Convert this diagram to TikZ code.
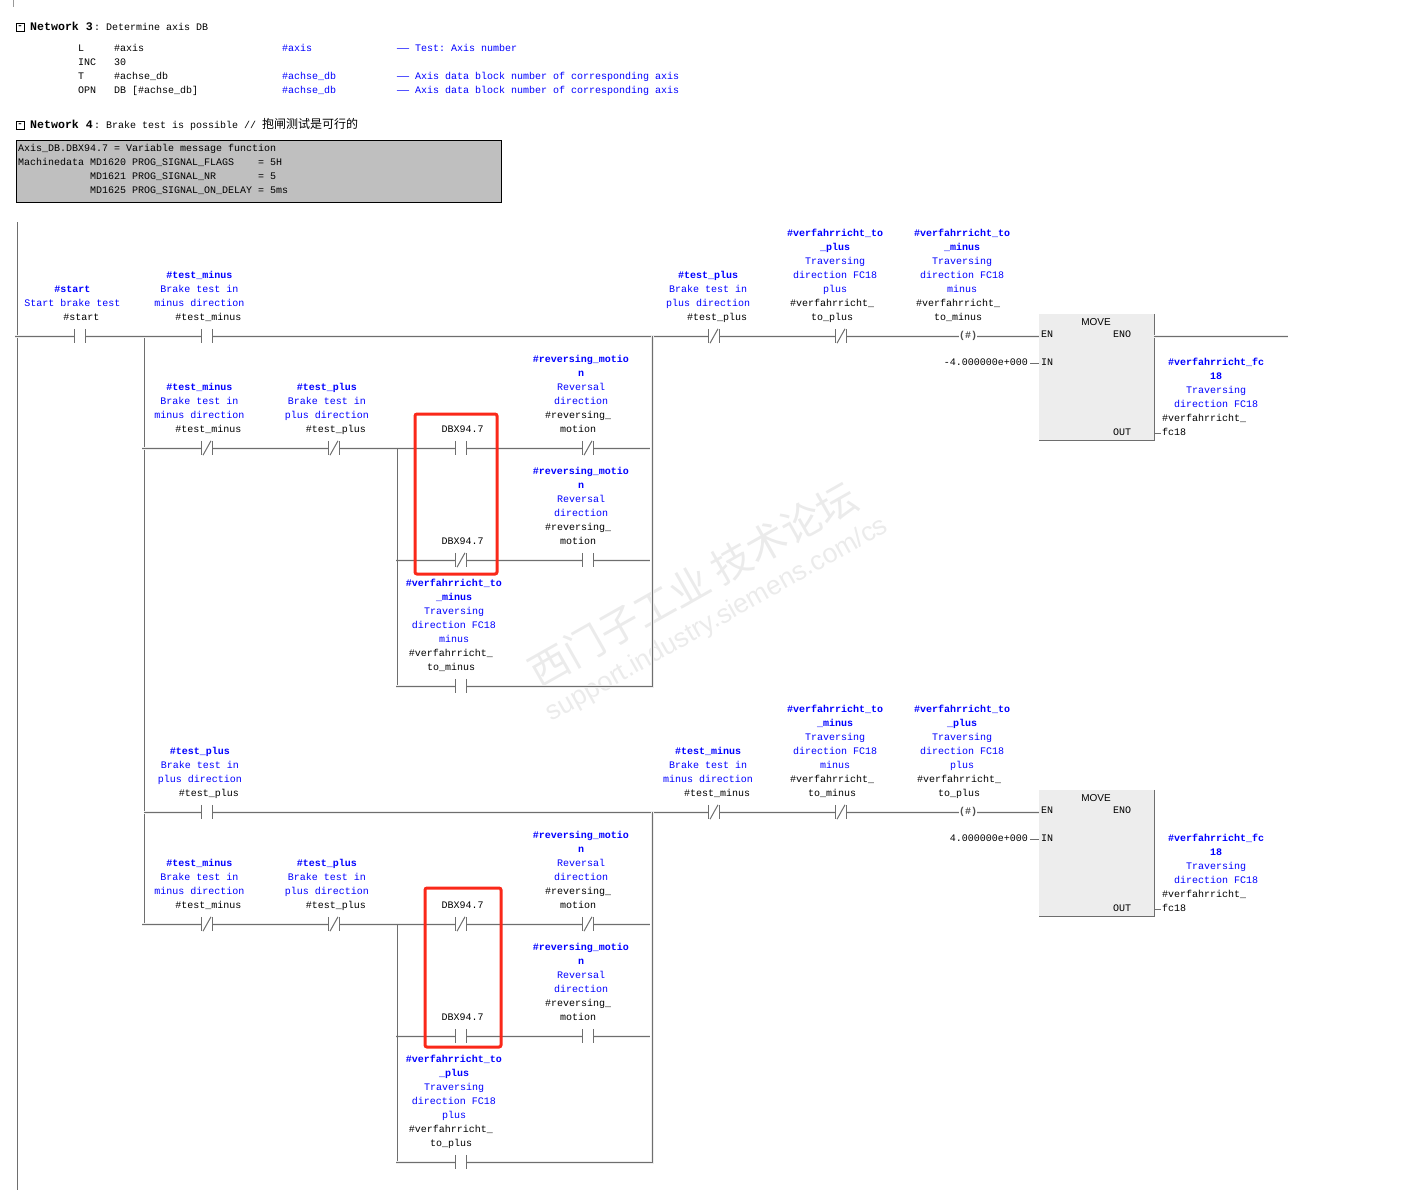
\documentclass[tikz,border=0pt]{standalone}
\usepackage{fontspec}
\setmainfont{Liberation Serif}
\setsansfont{Liberation Sans}
\setmonofont{Liberation Mono}
\newfontfamily\cjk{Noto Sans CJK SC}
\usetikzlibrary{positioning}

\definecolor{rungcol}{RGB}{110,110,110}
\definecolor{notecol}{RGB}{191,191,191}
\definecolor{redcol}{RGB}{250,40,25}
\definecolor{symcol}{RGB}{0,0,255}

\tikzset{
plc/.style={font=\ttfamily\fontsize{10}{14}\selectfont,inner sep=0pt,execute at begin node=\strut,execute at end node=\strut},
plcleft/.style={plc,anchor=west,align=left},
plcblue/.style={plcleft,text=symcol},
nethead/.style={plc,anchor=west,font=\ttfamily\bfseries\fontsize{11.6}{14}\selectfont},
collapsebox/.style={draw=black,line width=0.7pt,minimum size=8pt,inner sep=0pt,font=\ttfamily\bfseries\fontsize{9}{9}\selectfont},
optext/.style={plc,align=center},
symtext/.style={plc,align=center,text=symcol},
contactnode/.style={minimum width=11pt,minimum height=14pt,inner sep=0pt},
coilnode/.style={minimum width=17pt,minimum height=14pt,inner sep=0pt,font=\ttfamily\bfseries\fontsize{10}{14}\selectfont,text=rungcol!70!black},
bar/.style={draw=rungcol,line width=1pt},
rung/.style={draw=rungcol,line width=1pt,preaction={draw=black!7,line width=3pt}},
rail/.style={draw=rungcol,line width=1pt},
movebox/.style={fill=black!7,minimum width=115pt,minimum height=126pt,inner sep=0pt},
movename/.style={font=\sffamily\fontsize{10}{10}\selectfont,inner sep=0pt},
pintext/.style={plc,anchor=west},
redbox/.style={draw=redcol,line width=3pt,rounded corners=2pt},
notebox/.style={draw=black,line width=0.8pt,fill=notecol,minimum width=485pt,minimum height=62pt,inner sep=0pt,anchor=north west},
watermark/.style={text=black!8,inner sep=0pt,rotate=29.5}
}

% contact: name, x, y, shift of operand, operand
\newcommand{\contact}[5]{
\node[contactnode] (#1) at (#2,#3) {};
\draw[bar] (#1.north west)--(#1.south west) (#1.north east)--(#1.south east);
\node[optext,above=4pt of #1,xshift=#4pt] (#1op) {#5};
}
\newcommand{\ncmark}[1]{\draw[bar] ([xshift=-4pt]#1.south)--([xshift=4pt]#1.north);}
\newcommand{\symlabel}[4][0]{\node[symtext,above=#1pt of #2op,xshift=#3pt] (#2sym) {#4};}
\newcommand{\coil}[5]{
\node[coilnode] (#1) at (#2,#3) {(\#)};
\node[optext,above=4pt of #1,xshift=#4pt] (#1op) {#5};
}
\newcommand{\ldash}{\scalebox{2}[1]{—}}

\begin{document}
\begin{tikzpicture}[x=1pt,y=-1pt]
\useasboundingbox (0,0) rectangle (1411,1195);

% watermark
\node[watermark,font=\cjk\fontsize{40}{40}\selectfont] (markcn) at (693,584) {西门子工业\ 技术论坛};
\node[watermark,font=\sffamily\fontsize{26.8}{27}\selectfont] (markweb) at (717,620) {support.industry.siemens.com/cs};

% network 3
\coordinate (tick1) at (13,0);
\coordinate (tick2) at (13,7);
\draw[rail,draw=black!40] (tick1)--(tick2);
\node[collapsebox] (net3box) at (20,27) {-};
\node[nethead] (net3) at (30,28) {Network 3};
\node[plcleft] (net3text) at (94,28) {:~Determine axis DB};
\node[plcleft] (op1) at (78,49) {L};
\node[plcleft] (arg1) at (114,49) {\#axis};
\node[plcblue] (sym1) at (282,49) {\#axis};
\node[plcblue] (com1) at (397,49) {\ldash~Test: Axis number};
\node[plcleft] (op2) at (78,63) {INC};
\node[plcleft] (arg2) at (114,63) {30};
\node[plcleft] (op3) at (78,77) {T};
\node[plcleft] (arg3) at (114,77) {\#achse\_db};
\node[plcblue] (sym3) at (282,77) {\#achse\_db};
\node[plcblue] (com3) at (397,77) {\ldash~Axis data block number of corresponding axis};
\node[plcleft] (op4) at (78,91) {OPN};
\node[plcleft] (arg4) at (114,91) {DB [\#achse\_db]};
\node[plcblue] (sym4) at (282,91) {\#achse\_db};
\node[plcblue] (com4) at (397,91) {\ldash~Axis data block number of corresponding axis};

% network 4
\node[collapsebox] (net4box) at (20,125) {-};
\node[nethead] (net4) at (30,126) {Network 4};
\node[plcleft] (net4text) at (94,126) {:~Brake test is possible // {\cjk\fontsize{12}{14}\selectfont 抱闸测试是可行的}};
\node[notebox] (note) at (16,140) {};
\node[plc,align=left,anchor=north west] (notetext) at (18,144) {Axis\_DB.DBX94.7 = Variable message function\\
Machinedata MD1620 PROG\_SIGNAL\_FLAGS~~~~= 5H\\
~~~~~~~~~~~~MD1621 PROG\_SIGNAL\_NR~~~~~~~= 5\\
~~~~~~~~~~~~MD1625 PROG\_SIGNAL\_ON\_DELAY = 5ms};

% rails
\coordinate (railtop) at (17,222);
\coordinate (railbot) at (17,1190);
\coordinate (jmain) at (144,336);
\coordinate (jlow) at (144,924);
\draw[rail] (railtop)--(railbot);
\draw[rail] (jmain)--(jlow);

% first direction
\coordinate (lstart) at (15,336);
\contact{cstart}{80}{336}{1.5}{\#start}
\symlabel{cstart}{-9}{\textbf{\#start}\\Start brake test}
\contact{ctm}{207}{336}{1.5}{\#test\_minus}
\symlabel{ctm}{-9}{\textbf{\#test\_minus}\\Brake test in\\minus direction}
\contact{ctp}{714}{336}{3}{\#test\_plus}\ncmark{ctp}
\symlabel{ctp}{-9}{\textbf{\#test\_plus}\\Brake test in\\plus direction}
\contact{cvp}{841}{336}{-9}{\#verfahrricht\_\\to\_plus}\ncmark{cvp}
\symlabel[2]{cvp}{3}{\textbf{\#verfahrricht\_to}\\\textbf{\_plus}\\Traversing\\direction FC18\\plus}
\coil{cvm}{968}{336}{-10}{\#verfahrricht\_\\to\_minus}
\symlabel[2]{cvm}{4}{\textbf{\#verfahrricht\_to}\\\textbf{\_minus}\\Traversing\\direction FC18\\minus}
\draw[rung] (lstart)--(cstart.west);
\draw[rung] (cstart.east)--(ctm.west);
\draw[rung] (ctm.east)--(ctp.west);
\draw[rung] (ctp.east)--(cvp.west);
\draw[rung] (cvp.east)--(cvm.west);

\contact{dtm}{207}{448}{1.5}{\#test\_minus}\ncmark{dtm}
\symlabel{dtm}{-9}{\textbf{\#test\_minus}\\Brake test in\\minus direction}
\contact{dtp}{334}{448}{2}{\#test\_plus}\ncmark{dtp}
\symlabel{dtp}{-9}{\textbf{\#test\_plus}\\Brake test in\\plus direction}
\contact{dbx}{461}{448}{1.5}{DBX94.7}
\contact{drv}{588}{448}{-10}{\#reversing\_\\motion}\ncmark{drv}
\symlabel[2]{drv}{3}{\textbf{\#reversing\_motio}\\\textbf{n}\\Reversal\\direction}
\coordinate (dstart) at (142,448);
\coordinate (dend) at (650,448);
\draw[rung] (dstart)--(dtm.west);
\draw[rung] (dtm.east)--(dtp.west);
\draw[rung] (dtp.east)--(dbx.west);
\draw[rung] (dbx.east)--(drv.west);
\draw[rung] (drv.east)--(dend);

\contact{ebx}{461}{560}{1.5}{DBX94.7}\ncmark{ebx}
\contact{erv}{588}{560}{-10}{\#reversing\_\\motion}
\symlabel[2]{erv}{3}{\textbf{\#reversing\_motio}\\\textbf{n}\\Reversal\\direction}
\coordinate (estart) at (396,560);
\coordinate (eend) at (650,560);
\draw[rung] (estart)--(ebx.west);
\draw[rung] (ebx.east)--(erv.west);
\draw[rung] (erv.east)--(eend);

\contact{fvm}{461}{686}{-10}{\#verfahrricht\_\\to\_minus}
\symlabel[2]{fvm}{3}{\textbf{\#verfahrricht\_to}\\\textbf{\_minus}\\Traversing\\direction FC18\\minus}
\coordinate (fstart) at (396,686);
\coordinate (fcorner) at (652.5,686);
\coordinate (ftop) at (652.5,336);
\coordinate (dbranch) at (397.5,448);
\coordinate (dbranchend) at (397.5,686);
\draw[rail] (dbranch)--(dbranchend);
\draw[rung] (fstart)--(fvm.west);
\draw[rung] (fvm.east)--(fcorner)--(ftop);

\node[movebox] (mv) at (1096.5,377) {};
\draw[rail] (mv.north east)--(mv.south east)--(mv.south west);
\node[movename] (mvname) at (1096,322.5) {MOVE};
\node[pintext] (mven) at (1041,335) {EN};
\node[pintext] (mveno) at (1113,335) {ENO};
\node[pintext] (mvin) at (1041,363) {IN};
\node[pintext] (mvout) at (1113,433) {OUT};
\node[plc,anchor=east,inner xsep=2pt] (mvval) at (1030,363) {-4.000000e+000};
\coordinate (mvend) at (1288,336);
\coordinate (mvq) at (1161,433);
\draw[rung] (cvm.east)--(mv.west |- cvm.east);
\draw[rung] (mv.east |- mvend)--(mvend);
\draw[rail] (mvval.east)--(mv.west |- mvval.east);
\draw[rail] (mv.east |- mvq)--(mvq);
\node[symtext] (mvsym) at (1216,385) {\textbf{\#verfahrricht\_fc}\\\textbf{18}\\Traversing\\direction FC18};
\node[plcleft] (mvop) at (1162,427) {\#verfahrricht\_\\fc18};

% second direction
\begin{scope}[shift={(0,476)},name prefix=b]
\coordinate (jmain) at (144,336);
\contact{ctm}{207}{336}{2}{\#test\_plus}
\symlabel{ctm}{-9}{\textbf{\#test\_plus}\\Brake test in\\plus direction}
\contact{ctp}{714}{336}{3}{\#test\_minus}\ncmark{ctp}
\symlabel{ctp}{-9}{\textbf{\#test\_minus}\\Brake test in\\minus direction}
\contact{cvp}{841}{336}{-9}{\#verfahrricht\_\\to\_minus}\ncmark{cvp}
\symlabel[2]{cvp}{3}{\textbf{\#verfahrricht\_to}\\\textbf{\_minus}\\Traversing\\direction FC18\\minus}
\coil{cvm}{968}{336}{-9}{\#verfahrricht\_\\to\_plus}
\symlabel[2]{cvm}{3}{\textbf{\#verfahrricht\_to}\\\textbf{\_plus}\\Traversing\\direction FC18\\plus}
\draw[rung] (jmain)--(ctm.west);
\draw[rung] (ctm.east)--(ctp.west);
\draw[rung] (ctp.east)--(cvp.west);
\draw[rung] (cvp.east)--(cvm.west);

\contact{dtm}{207}{448}{1.5}{\#test\_minus}\ncmark{dtm}
\symlabel{dtm}{-9}{\textbf{\#test\_minus}\\Brake test in\\minus direction}
\contact{dtp}{334}{448}{2}{\#test\_plus}\ncmark{dtp}
\symlabel{dtp}{-9}{\textbf{\#test\_plus}\\Brake test in\\plus direction}
\contact{dbx}{461}{448}{1.5}{DBX94.7}\ncmark{dbx}
\contact{drv}{588}{448}{-10}{\#reversing\_\\motion}\ncmark{drv}
\symlabel[2]{drv}{3}{\textbf{\#reversing\_motio}\\\textbf{n}\\Reversal\\direction}
\coordinate (dstart) at (142,448);
\coordinate (dend) at (650,448);
\draw[rung] (dstart)--(dtm.west);
\draw[rung] (dtm.east)--(dtp.west);
\draw[rung] (dtp.east)--(dbx.west);
\draw[rung] (dbx.east)--(drv.west);
\draw[rung] (drv.east)--(dend);

\contact{ebx}{461}{560}{1.5}{DBX94.7}
\contact{erv}{588}{560}{-10}{\#reversing\_\\motion}
\symlabel[2]{erv}{3}{\textbf{\#reversing\_motio}\\\textbf{n}\\Reversal\\direction}
\coordinate (estart) at (396,560);
\coordinate (eend) at (650,560);
\draw[rung] (estart)--(ebx.west);
\draw[rung] (ebx.east)--(erv.west);
\draw[rung] (erv.east)--(eend);

\contact{fvm}{461}{686}{-10}{\#verfahrricht\_\\to\_plus}
\symlabel[2]{fvm}{3}{\textbf{\#verfahrricht\_to}\\\textbf{\_plus}\\Traversing\\direction FC18\\plus}
\coordinate (fstart) at (396,686);
\coordinate (fcorner) at (652.5,686);
\coordinate (ftop) at (652.5,336);
\coordinate (dbranch) at (397.5,448);
\coordinate (dbranchend) at (397.5,686);
\draw[rail] (dbranch)--(dbranchend);
\draw[rung] (fstart)--(fvm.west);
\draw[rung] (fvm.east)--(fcorner)--(ftop);

\node[movebox] (mv) at (1096.5,377) {};
\draw[rail] (mv.north east)--(mv.south east)--(mv.south west);
\node[movename] (mvname) at (1096,322.5) {MOVE};
\node[pintext] (mven) at (1041,335) {EN};
\node[pintext] (mveno) at (1113,335) {ENO};
\node[pintext] (mvin) at (1041,363) {IN};
\node[pintext] (mvout) at (1113,433) {OUT};
\node[plc,anchor=east,inner xsep=2pt] (mvval) at (1030,363) {4.000000e+000};
\coordinate (mvq) at (1161,433);
\draw[rung] (cvm.east)--(mv.west |- cvm.east);
\draw[rail] (mvval.east)--(mv.west |- mvval.east);
\draw[rail] (mv.east |- mvq)--(mvq);
\node[symtext] (mvsym) at (1216,385) {\textbf{\#verfahrricht\_fc}\\\textbf{18}\\Traversing\\direction FC18};
\node[plcleft] (mvop) at (1162,427) {\#verfahrricht\_\\fc18};
\end{scope}

% highlighted contacts
\draw[redbox] (415,414) rectangle (497,574);
\draw[redbox] (425,888) rectangle (501,1047);
\end{tikzpicture}
\end{document}
